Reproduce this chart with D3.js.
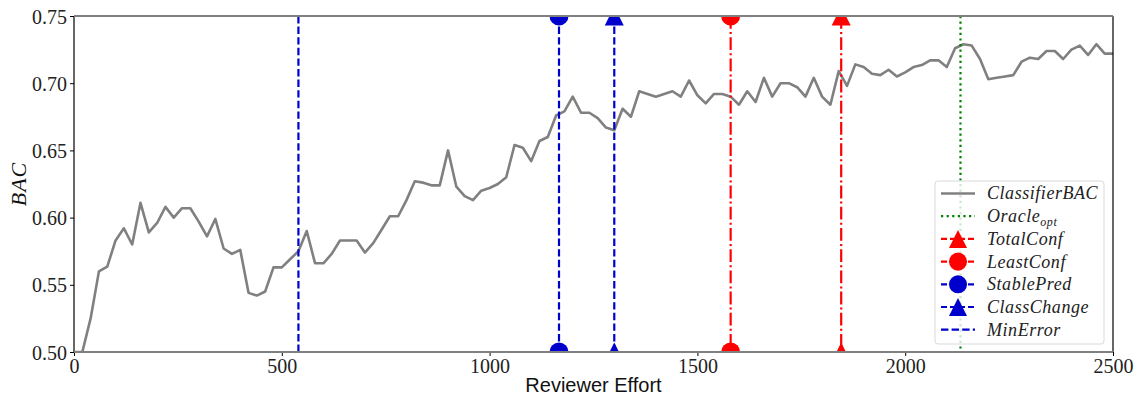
<!DOCTYPE html>
<html>
<head>
<meta charset="utf-8">
<script src="https://cdn.jsdelivr.net/npm/d3@7"></script>
<style>
  body { margin: 0; background: #fff; }
  svg { display: block; }
</style>
</head>
<body>
<svg id="chart" width="1136" height="398"></svg>
<script>
// reviewer effort (x) and classifier BAC (y)
const effort = [
  0, 20, 40, 60, 80, 100, 120, 140, 160, 180, 200, 220, 240, 260, 280, 300, 320, 340, 360, 380,
  400, 420, 440, 460, 480, 500, 520, 540, 560, 580, 600, 620, 640, 660, 680, 700, 720, 740, 760, 780,
  800, 820, 840, 860, 880, 900, 920, 940, 960, 980, 1000, 1020, 1040, 1060, 1080, 1100, 1120, 1140, 1160, 1180,
  1200, 1220, 1240, 1260, 1280, 1300, 1320, 1340, 1360, 1380, 1400, 1420, 1440, 1460, 1480, 1500, 1520, 1540, 1560, 1580,
  1600, 1620, 1640, 1660, 1680, 1700, 1720, 1740, 1760, 1780, 1800, 1820, 1840, 1860, 1880, 1900, 1920, 1940, 1960, 1980,
  2000, 2020, 2040, 2060, 2080, 2100, 2120, 2140, 2160, 2180, 2200, 2220, 2240, 2260, 2280, 2300, 2320, 2340, 2360, 2380,
  2400, 2420, 2440, 2460, 2480, 2500
];
const bac = [
  0.500, 0.500, 0.525, 0.560, 0.5635, 0.583, 0.592, 0.580, 0.611, 0.589, 0.596, 0.608, 0.600, 0.607, 0.607, 0.597, 0.586, 0.599, 0.577, 0.573,
  0.576, 0.544, 0.542, 0.545, 0.563, 0.563, 0.569, 0.575, 0.590, 0.566, 0.566, 0.573, 0.583, 0.583, 0.583, 0.574, 0.581, 0.591, 0.601, 0.601,
  0.613, 0.627, 0.626, 0.624, 0.624, 0.650, 0.623, 0.616, 0.613, 0.620, 0.622, 0.625, 0.630, 0.654, 0.652, 0.642, 0.657, 0.660, 0.676, 0.679,
  0.690, 0.678, 0.678, 0.674, 0.667, 0.665, 0.681, 0.675, 0.694, 0.692, 0.690, 0.692, 0.694, 0.690, 0.702, 0.691, 0.685, 0.692, 0.692, 0.690,
  0.684, 0.694, 0.686, 0.704, 0.690, 0.700, 0.700, 0.697, 0.690, 0.704, 0.690, 0.684, 0.709, 0.698, 0.714, 0.712, 0.707, 0.706, 0.710, 0.705,
  0.708, 0.712, 0.7135, 0.717, 0.717, 0.712, 0.726, 0.729, 0.728, 0.718, 0.703, 0.704, 0.705, 0.706, 0.716, 0.719, 0.718, 0.724, 0.724, 0.718,
  0.725, 0.728, 0.721, 0.729, 0.722, 0.722
];

// stopping points
const stopNames = ["TotalConf", "LeastConf", "StablePred", "ClassChange", "MinError"];
const stopEffort = [1846, 1580, 1167, 1300, 540];
const oracleEffort = 2133;

const xTicks = [0, 500, 1000, 1500, 2000, 2500];
const yTicks = [0.50, 0.55, 0.60, 0.65, 0.70, 0.75];

const RED = "#ff0000", BLUE = "#0000cd", GREEN = "#008000", GREY = "#808080";
const stopStyle = {
  TotalConf:   { color: RED,  dash: "12.8,3.2,2,3.2", marker: "triangle" },
  LeastConf:   { color: RED,  dash: "12.8,3.2,2,3.2", marker: "circle" },
  StablePred:  { color: BLUE, dash: "7.4,3.2", marker: "circle" },
  ClassChange: { color: BLUE, dash: "7.4,3.2", marker: "triangle" },
  MinError:    { color: BLUE, dash: "7.4,3.2", marker: null }
};

const margin = { top: 16, right: 23, bottom: 46, left: 74 };
const svg = d3.select("#chart");
const width = 1136 - margin.left - margin.right,
      height = 398 - margin.top - margin.bottom;
const g = svg.append("g").attr("transform", "translate(" + margin.left + "," + margin.top + ")");

const x = d3.scaleLinear().domain([0, 2500]).range([0, width]);
const y = d3.scaleLinear().domain([0.50, 0.75]).range([height, 0]);

const serif = "'Liberation Serif', 'DejaVu Serif', serif";

svg.append("defs").append("clipPath").attr("id", "plotclip")
  .append("rect").attr("width", width).attr("height", height);

const plot = g.append("g").attr("clip-path", "url(#plotclip)");

const MS = 19; // marker size
function markerPath(type) {
  const h = MS / 2;
  if (type === "triangle") return "M0," + (-h) + "L" + (-h) + "," + h + "L" + h + "," + h + "Z";
  return d3.symbol().type(d3.symbolCircle).size(Math.PI * h * h)();
}

// classifier curve
const line = d3.line()
  .x(function(d, i) { return x(effort[i]); })
  .y(function(d) { return y(d); });

plot.append("path")
  .datum(bac)
  .attr("fill", "none")
  .attr("stroke", GREY)
  .attr("stroke-width", 2.6)
  .attr("stroke-linejoin", "round")
  .attr("d", line);

// oracle
plot.append("line")
  .attr("x1", x(oracleEffort)).attr("x2", x(oracleEffort))
  .attr("y1", y(0.75)).attr("y2", y(0.50))
  .attr("stroke", GREEN).attr("stroke-width", 2.2)
  .attr("stroke-dasharray", "2.2,3.4");

// stopping rules
stopNames.forEach(function(name, i) {
  const s = stopStyle[name];
  const xv = x(stopEffort[i]);
  plot.append("line")
    .attr("x1", xv).attr("x2", xv)
    .attr("y1", y(0.75)).attr("y2", y(0.50))
    .attr("stroke", s.color).attr("stroke-width", 2.2)
    .attr("stroke-dasharray", s.dash);
  if (s.marker) {
    [0.75, 0.50].forEach(function(v) {
      plot.append("path")
        .attr("d", markerPath(s.marker))
        .attr("transform", "translate(" + xv + "," + y(v) + ")")
        .attr("fill", s.color);
    });
  }
});

// axes
const xAxis = g.append("g")
  .attr("transform", "translate(0," + height + ")")
  .call(d3.axisBottom(x).tickValues(xTicks).tickFormat(d3.format("d")).tickSizeOuter(0).tickSize(4).tickPadding(3));
const yAxis = g.append("g")
  .call(d3.axisLeft(y).tickValues(yTicks).tickFormat(d3.format(".2f")).tickSizeOuter(0).tickSize(4).tickPadding(3));

[xAxis, yAxis].forEach(function(a) {
  a.select(".domain").remove();
  a.selectAll(".tick line").attr("stroke", "#000").attr("stroke-width", 1);
  a.selectAll(".tick text").attr("fill", "#222").style("font-family", serif).style("font-size", "20px");
});
yAxis.selectAll(".tick text").attr("dy", "0.35em");

// frame
g.append("line").attr("x1", 0).attr("x2", 0).attr("y1", 0).attr("y2", height).attr("stroke", "#000").attr("stroke-width", 1.2);
g.append("line").attr("x1", width).attr("x2", width).attr("y1", 0).attr("y2", height).attr("stroke", "#000").attr("stroke-width", 1.2);
g.append("line").attr("x1", 0).attr("x2", width).attr("y1", 0).attr("y2", 0).attr("stroke", GREY).attr("stroke-width", 2);
g.append("line").attr("x1", 0).attr("x2", width).attr("y1", height).attr("y2", height).attr("stroke", GREY).attr("stroke-width", 2);

// axis titles
svg.append("text")
  .attr("x", margin.left + width / 2).attr("y", 392)
  .attr("text-anchor", "middle")
  .style("font-family", "'Liberation Sans', sans-serif").style("font-size", "20px")
  .attr("fill", "#111")
  .text("Reviewer Effort");

svg.append("text")
  .attr("transform", "translate(26," + (margin.top + height / 2) + ") rotate(-90)")
  .attr("text-anchor", "middle")
  .style("font-family", serif).style("font-style", "italic").style("font-size", "22px")
  .style("letter-spacing", "1px")
  .attr("fill", "#111")
  .text("BAC");

// legend
const legendItems = [
  { label: "ClassifierBAC", color: GREY, dash: null, marker: null, width: 2.6 },
  { label: "Oracle", sub: "opt", color: GREEN, dash: "2.2,3.4", marker: null, width: 2.2 },
  { label: "TotalConf", color: RED, dash: "6,3", marker: "triangle", width: 2.2 },
  { label: "LeastConf", color: RED, dash: "6,3", marker: "circle", width: 2.2 },
  { label: "StablePred", color: BLUE, dash: "6,3", marker: "circle", width: 2.2 },
  { label: "ClassChange", color: BLUE, dash: "6,3", marker: "triangle", width: 2.2 },
  { label: "MinError", color: BLUE, dash: "7.4,3.2", marker: null, width: 2.2 }
];

const lg = svg.append("g").attr("transform", "translate(935,181)");
lg.append("rect")
  .attr("width", 169).attr("height", 163).attr("rx", 3)
  .attr("fill", "rgba(255,255,255,0.8)")
  .attr("stroke", "#d9d9d9").attr("stroke-width", 1);

legendItems.forEach(function(d, i) {
  const row = lg.append("g").attr("transform", "translate(0," + (12.5 + i * 22.7) + ")");
  row.append("line")
    .attr("x1", 6).attr("x2", 40)
    .attr("stroke", d.color).attr("stroke-width", d.width)
    .attr("stroke-dasharray", d.dash);
  if (d.marker) {
    row.append("path").attr("d", markerPath(d.marker))
      .attr("transform", "translate(23,0) scale(0.95)")
      .attr("fill", d.color);
  }
  const t = row.append("text")
    .attr("x", 52).attr("y", 0).attr("dy", "0.33em")
    .style("font-family", serif).style("font-style", "italic").style("font-size", "18px")
    .style("letter-spacing", "0.55px")
    .attr("fill", "#222")
    .text(d.label);
  if (d.sub) {
    t.append("tspan").attr("dy", "4").style("font-size", "12px").text(d.sub);
  }
});
</script>
</body>
</html>
